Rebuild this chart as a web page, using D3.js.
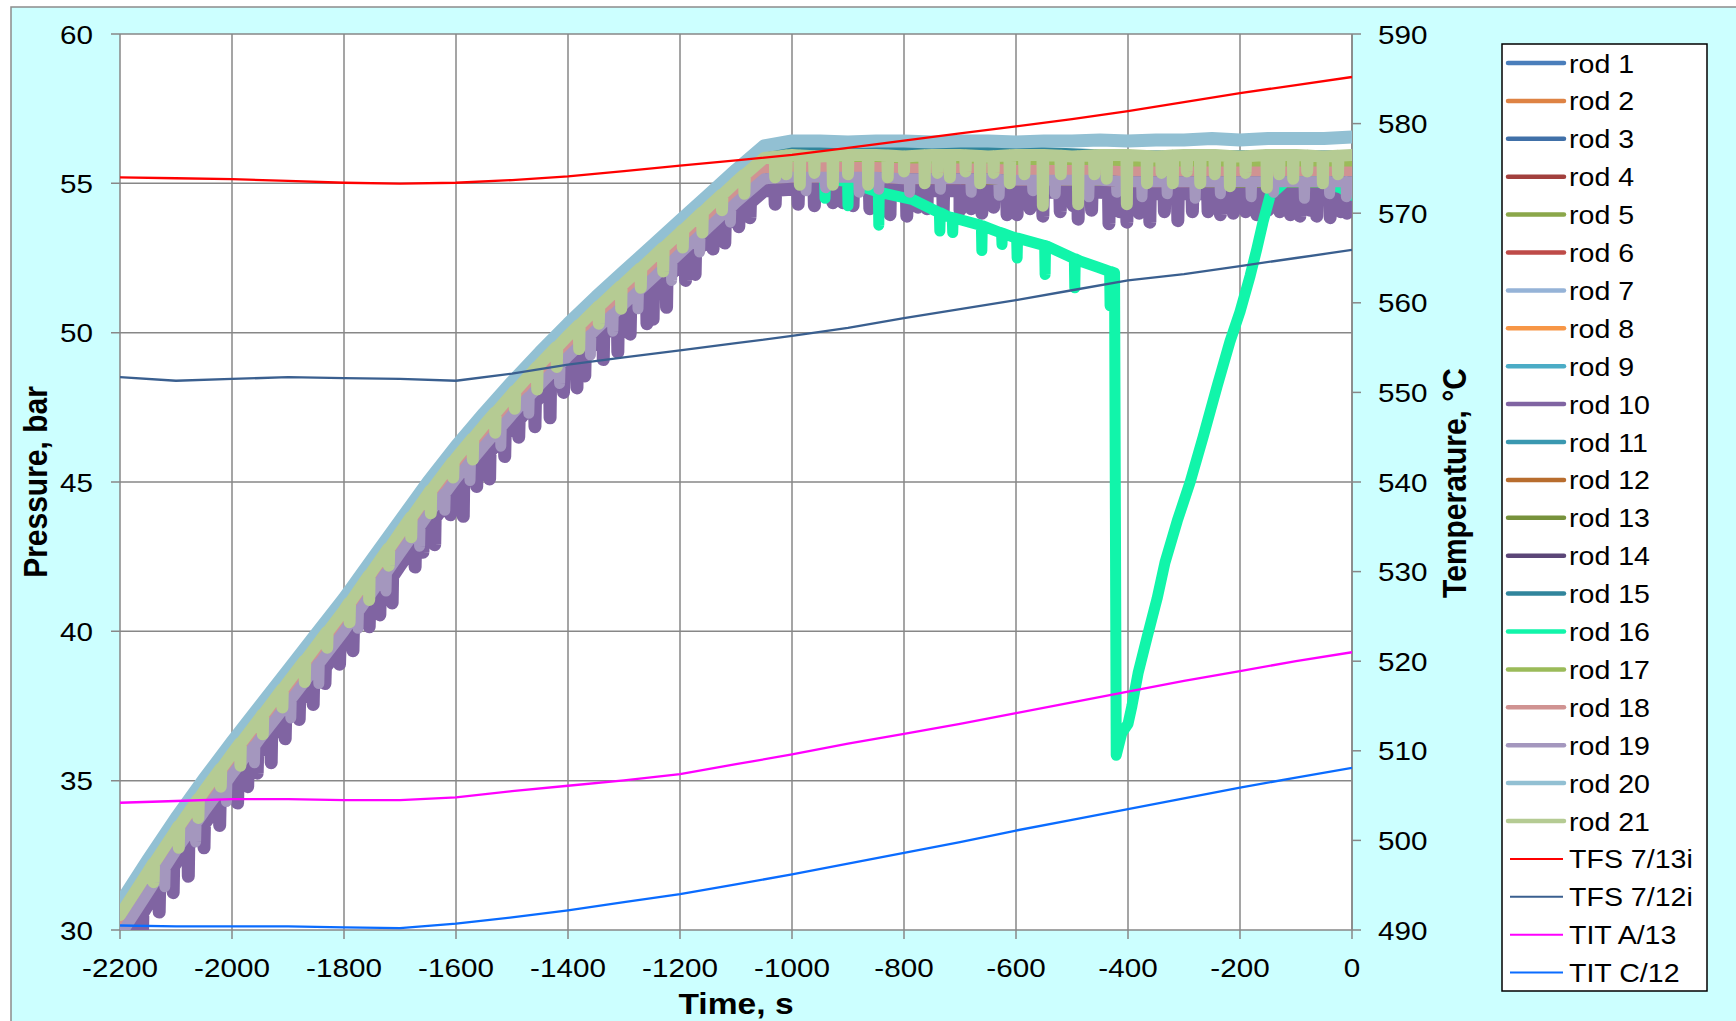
<!DOCTYPE html>
<html>
<head>
<meta charset="utf-8">
<script src="https://cdn.jsdelivr.net/npm/d3@7"></script>
<style>
    body { margin: 0; background: #ffffff; }
    svg text { font-family: "Liberation Sans", Arial, sans-serif; }
</style>
</head>
<body>
<svg id="chart" width="1736" height="1021"></svg>
<script>
'use strict';

// ---- axis ticks ----
var timeTicks = [-2200, -2000, -1800, -1600, -1400, -1200, -1000, -800, -600, -400, -200, 0];
var pressureTicks = [30, 35, 40, 45, 50, 55, 60];
var tempTicks = [490, 500, 510, 520, 530, 540, 550, 560, 570, 580, 590];

// ---- visible rods, 50 s grid ----
var times50 = [-2200, -2150, -2100, -2050, -2000, -1950, -1900, -1850, -1800, -1750, -1700, -1650,
    -1600, -1550, -1500, -1450, -1400, -1350, -1300, -1250, -1200, -1150, -1100, -1050,
    -1000, -950, -900, -850, -800, -750, -700, -650, -600, -550, -500, -450, -400, -350,
    -300, -250, -200, -150, -100, -50, 0];

var rod20 = [30.9, 32.35, 33.75, 35.05, 36.3, 37.5, 38.7, 39.9, 41.1, 42.4, 43.7, 45.0,
    46.2, 47.3, 48.35, 49.35, 50.3, 51.2, 52.05, 52.9, 53.75, 54.6, 55.45, 56.25,
    56.42, 56.42, 56.38, 56.42, 56.42, 56.38, 56.42, 56.42, 56.38, 56.42, 56.42, 56.45, 56.42, 56.45,
    56.45, 56.5, 56.45, 56.5, 56.5, 56.5, 56.55];
var rod21 = [30.5, 31.95, 33.35, 34.65, 35.9, 37.1, 38.3, 39.5, 40.7, 42.0, 43.3, 44.6,
    45.8, 46.9, 47.95, 48.95, 49.9, 50.8, 51.65, 52.5, 53.35, 54.2, 55.05, 55.85,
    55.95, 55.9, 55.95, 55.95, 55.9, 55.95, 55.95, 55.9, 55.95, 55.95, 55.9, 55.95, 55.95, 55.9,
    55.95, 55.95, 55.9, 55.95, 55.95, 55.9, 55.95];
var rod18 = [30.15, 31.6, 33.0, 34.3, 35.55, 36.75, 37.95, 39.15, 40.35, 41.65, 42.95, 44.25,
    45.45, 46.55, 47.6, 48.6, 49.55, 50.45, 51.3, 52.15, 53.0, 53.85, 54.7, 55.5,
    55.55, 55.55, 55.55, 55.55, 55.5, 55.5, 55.5, 55.5, 55.45, 55.45, 55.45, 55.45, 55.4, 55.4,
    55.4, 55.4, 55.4, 55.4, 55.4, 55.4, 55.4];
var rod19 = [29.8, 31.25, 32.65, 33.95, 35.2, 36.4, 37.6, 38.8, 40.0, 41.3, 42.6, 43.9,
    45.1, 46.2, 47.25, 48.25, 49.2, 50.1, 50.95, 51.8, 52.65, 53.5, 54.35, 55.15,
    55.2, 55.2, 55.2, 55.2, 55.15, 55.15, 55.15, 55.15, 55.1, 55.1, 55.1, 55.1, 55.05, 55.05,
    55.05, 55.05, 55.05, 55.05, 55.05, 55.05, 55.05];
var rod10 = [29.4, 30.85, 32.25, 33.55, 34.8, 36.0, 37.2, 38.4, 39.6, 40.9, 42.2, 43.5,
    44.7, 45.8, 46.85, 47.85, 48.8, 49.7, 50.55, 51.4, 52.25, 53.1, 53.95, 54.75,
    54.8, 54.8, 54.8, 54.8, 54.75, 54.75, 54.75, 54.75, 54.7, 54.7, 54.7, 54.7, 54.65, 54.65,
    54.65, 54.65, 54.65, 54.65, 54.65, 54.65, 54.65];

// ---- rods mostly hidden inside the bundle, key times ----
var keyTimes = [-2200, -2100, -2000, -1900, -1800, -1700, -1600, -1500, -1400, -1300, -1200,
    -1100, -1050, -1000, -800, -600, -400, -200, 0];

var rod1 = [30.3, 33.15, 35.7, 38.1, 40.5, 43.1, 45.6, 47.75, 49.7, 51.45, 53.15, 54.85, 55.65, 55.6, 55.55, 55.5, 55.45, 55.4, 55.4];
var rod2 = [29.4, 32.25, 34.8, 37.2, 39.6, 42.2, 44.7, 46.85, 48.8, 50.55, 52.25, 53.95, 54.75, 54.8, 54.75, 54.7, 54.65, 54.65, 54.65];
var rod3 = [30.0, 32.85, 35.4, 37.8, 40.2, 42.8, 45.3, 47.45, 49.4, 51.15, 52.85, 54.55, 55.35, 55.3, 55.3, 55.25, 55.2, 55.15, 55.15];
var rod4 = [29.8, 32.65, 35.2, 37.6, 40.0, 42.6, 45.1, 47.25, 49.2, 50.95, 52.65, 54.35, 55.15, 55.15, 55.1, 55.05, 55.0, 55.0, 55.0];
var rod5 = [30.2, 33.05, 35.6, 38.0, 40.4, 43.0, 45.5, 47.65, 49.6, 51.35, 53.05, 54.75, 55.55, 55.5, 55.45, 55.4, 55.35, 55.35, 55.3];
var rod6 = [29.9, 32.75, 35.3, 37.7, 40.1, 42.7, 45.2, 47.35, 49.3, 51.05, 52.75, 54.45, 55.25, 55.2, 55.2, 55.15, 55.1, 55.05, 55.05];
var rod7 = [30.7, 33.55, 36.1, 38.5, 40.9, 43.5, 46.0, 48.15, 50.1, 51.85, 53.55, 55.25, 56.05, 55.95, 55.95, 55.9, 55.95, 55.95, 55.95];
var rod8 = [29.45, 32.3, 34.85, 37.25, 39.65, 42.25, 44.75, 46.9, 48.85, 50.6, 52.3, 54.0, 54.8, 54.8, 54.75, 54.7, 54.65, 54.65, 54.65];
var rod9 = [30.55, 33.4, 35.95, 38.35, 40.75, 43.35, 45.85, 48.0, 49.95, 51.7, 53.4, 55.1, 55.9, 55.9, 55.9, 55.9, 55.9, 55.9, 55.9];
var rod11 = [30.5, 33.35, 35.9, 38.3, 40.7, 43.3, 45.8, 47.95, 49.9, 51.65, 53.35, 55.05, 55.85, 55.95, 55.9, 55.95, 55.9, 55.95, 55.9];
var rod12 = [29.85, 32.7, 35.25, 37.65, 40.05, 42.65, 45.15, 47.3, 49.25, 51.0, 52.7, 54.4, 55.2, 55.2, 55.15, 55.1, 55.05, 55.05, 55.05];
var rod13 = [29.8, 32.65, 35.2, 37.6, 40.0, 42.6, 45.1, 47.25, 49.2, 50.95, 52.65, 54.35, 55.15, 55.2, 55.15, 55.1, 55.05, 55.0, 55.0];
var rod14 = [30.1, 32.95, 35.5, 37.9, 40.3, 42.9, 45.4, 47.55, 49.5, 51.25, 52.95, 54.65, 55.45, 55.45, 55.4, 55.4, 55.35, 55.3, 55.3];
var rod15 = [30.75, 33.6, 36.15, 38.55, 40.95, 43.55, 46.05, 48.2, 50.15, 51.9, 53.6, 55.3, 56.1, 56.15, 56.15, 56.1, 55.95, 55.95, 55.95];
var rod17 = [30.35, 33.2, 35.75, 38.15, 40.55, 43.15, 45.65, 47.8, 49.75, 51.5, 53.2, 54.9, 55.7, 55.6, 55.6, 55.6, 55.6, 55.6, 55.6];

// ---- rod 16: leaves the bundle, collapses near -420 s and recovers ----
var rod16 = [[-2200, 30.45], [-2100, 33.3], [-2000, 35.85], [-1900, 38.25], [-1800, 40.65], [-1700, 43.25],
    [-1600, 45.75], [-1500, 47.9], [-1400, 49.85], [-1300, 51.6], [-1200, 53.3], [-1100, 55.0],
    [-1050, 55.7], [-1010, 55.5], [-980, 55.3], [-944, 55.2], [-902, 55.05], [-843, 54.7], [-784, 54.45],
    [-723, 53.9], [-664, 53.6], [-605, 53.2], [-545, 52.9], [-486, 52.4], [-455, 52.2], [-440, 52.1],
    [-424, 52.0], [-421, 35.85], [-411, 36.6], [-400, 36.9], [-393, 37.5], [-382, 38.6], [-366, 39.8],
    [-348, 41.1], [-334, 42.3], [-312, 43.7], [-289, 45.0], [-266, 46.5], [-241, 48.2], [-218, 49.7],
    [-200, 50.7], [-182, 51.9], [-170, 52.8], [-159, 53.7], [-146, 54.6], [-120, 55.05], [-60, 55.05],
    [-20, 54.85], [0, 54.6]];

// ---- downward spikes [time, lowest value] ----
var rod10Dips = [[-2160, 29.65], [-2130, 30.6], [-2105, 31.25], [-2078, 31.8], [-2050, 32.75], [-2022, 33.5],
    [-1990, 34.25], [-1972, 34.8], [-1955, 35.25], [-1930, 35.6], [-1905, 36.4], [-1880, 37.05], [-1855, 37.55],
    [-1834, 38.25], [-1808, 38.9], [-1784, 39.35], [-1755, 40.15], [-1736, 40.55], [-1714, 40.95], [-1673, 42.15],
    [-1659, 42.65], [-1638, 42.9], [-1610, 43.9], [-1587, 43.85], [-1563, 44.85], [-1540, 45.1], [-1513, 45.85],
    [-1488, 46.5], [-1459, 46.85], [-1432, 47.15], [-1408, 48.0], [-1384, 48.15], [-1370, 48.55], [-1337, 49.1],
    [-1311, 49.35], [-1289, 49.95], [-1259, 50.3], [-1248, 50.45], [-1224, 50.85], [-1190, 51.75], [-1173, 51.95],
    [-1141, 52.8], [-1120, 53.0], [-1095, 53.55], [-1075, 53.85],
    [-1030, 54.3], [-989, 54.3], [-960, 54.25], [-927, 54.35], [-909, 54.35], [-891, 54.25], [-861, 54.15],
    [-840, 54.2], [-825, 53.95], [-795, 53.9], [-775, 54.2], [-759, 54.15], [-730, 54.05], [-700, 54.1],
    [-680, 54.15], [-661, 54.0], [-640, 54.2], [-616, 53.95], [-598, 53.95], [-575, 54.15], [-552, 53.9],
    [-521, 54.05], [-498, 54.25], [-489, 53.8], [-465, 54.1], [-434, 53.65], [-415, 54.05], [-402, 53.7],
    [-380, 54.0], [-361, 53.7], [-335, 54.05], [-311, 53.75], [-285, 54.05], [-257, 54.05], [-235, 53.95],
    [-212, 54.0], [-190, 54.05], [-170, 53.95], [-150, 54.1], [-129, 54.05], [-110, 53.95], [-93, 53.9],
    [-75, 54.1], [-63, 53.9], [-39, 53.85], [-20, 54.05], [-9, 54.0]];

var rod21Dips = [[-2140, 31.6], [-2095, 32.75], [-2060, 33.75], [-2020, 34.8], [-1985, 35.5], [-1945, 36.55],
    [-1910, 37.45], [-1870, 38.3], [-1830, 39.45], [-1790, 40.3], [-1755, 41.05], [-1720, 42.2], [-1680, 43.15],
    [-1645, 43.95], [-1605, 45.15], [-1570, 45.75], [-1530, 46.65], [-1495, 47.45], [-1455, 48.1], [-1420, 48.85],
    [-1380, 49.45], [-1345, 50.3], [-1305, 50.8], [-1270, 51.5], [-1230, 52.05], [-1195, 52.85], [-1160, 53.35],
    [-1125, 54.1], [-1085, 54.65],
    [-1030, 55.2], [-1010, 55.3], [-986, 54.95], [-960, 55.35], [-927, 54.95], [-900, 55.3], [-864, 54.95],
    [-829, 55.2], [-800, 55.4], [-763, 55.0], [-740, 55.35], [-718, 55.2], [-690, 55.4], [-664, 55.0],
    [-640, 55.35], [-611, 55.0], [-585, 55.3], [-552, 54.25], [-520, 55.3], [-489, 54.3], [-460, 55.3],
    [-438, 55.15], [-402, 54.3], [-366, 55.0], [-340, 55.35], [-320, 55.0], [-295, 55.4], [-271, 55.0],
    [-245, 55.3], [-218, 54.9], [-190, 55.35], [-152, 54.85], [-130, 55.3], [-105, 55.15], [-80, 55.4],
    [-52, 55.0], [-25, 55.3]];

var rod19Dips = [[-2120, 31.45], [-2065, 32.95], [-2010, 34.3], [-1960, 35.6], [-1895, 37.1], [-1845, 38.25],
    [-1775, 40.1], [-1725, 41.35], [-1665, 42.85], [-1620, 44.05], [-1575, 45.05], [-1520, 46.2], [-1470, 47.3],
    [-1415, 48.3], [-1360, 49.25], [-1320, 50.05], [-1275, 50.8], [-1215, 51.75], [-1165, 52.7], [-1110, 53.7],
    [-975, 54.75], [-940, 54.85], [-880, 54.7], [-845, 54.8], [-790, 54.7], [-735, 54.8], [-680, 54.7],
    [-630, 54.6], [-570, 54.75], [-530, 54.65], [-470, 54.55], [-420, 54.7], [-375, 54.55], [-330, 54.65],
    [-280, 54.5], [-235, 54.65], [-180, 54.55], [-140, 54.7], [-85, 54.5], [-40, 54.65], [-10, 54.55]];

var rod16Dips = [[-941, 54.5], [-900, 54.25], [-845, 53.6], [-736, 53.4], [-713, 53.35], [-661, 52.75],
    [-625, 52.95], [-598, 52.5], [-548, 51.95], [-495, 51.5], [-432, 50.9]];

// ---- thermocouples (right axis), 100 s grid ----
var thermoTimes = [-2200, -2100, -2000, -1900, -1800, -1700, -1600, -1500, -1400, -1300, -1200, -1100,
    -1000, -900, -800, -700, -600, -500, -400, -300, -200, -100, 0];
var tfs713 = [574.0, 573.9, 573.8, 573.6, 573.4, 573.3, 573.4, 573.7, 574.1, 574.7, 575.3, 575.9,
    576.5, 577.3, 578.1, 578.9, 579.7, 580.5, 581.4, 582.4, 583.4, 584.3, 585.2];
var tfs712 = [551.7, 551.3, 551.5, 551.7, 551.6, 551.5, 551.3, 552.1, 553.1, 553.9, 554.7, 555.5,
    556.3, 557.2, 558.3, 559.3, 560.3, 561.4, 562.5, 563.2, 564.1, 565.0, 565.9];
var titA13 = [504.2, 504.4, 504.6, 504.6, 504.5, 504.5, 504.8, 505.5, 506.1, 506.7, 507.4, 508.5,
    509.6, 510.8, 511.9, 513.0, 514.2, 515.4, 516.6, 517.8, 518.9, 520.0, 521.0];
var titC12 = [490.5, 490.4, 490.4, 490.4, 490.3, 490.2, 490.7, 491.4, 492.2, 493.1, 494.0, 495.1,
    496.2, 497.4, 498.6, 499.8, 501.1, 502.3, 503.5, 504.7, 505.9, 507.0, 508.1];

var rodColors = ['#4A7EBB', '#DE8344', '#4070A8', '#A2403D', '#8BA74A', '#BE4B48', '#95B3D7',
    '#F79646', '#4BACC6', '#8064A2', '#3A98B0', '#B86D2E', '#77923C', '#5B4677', '#31859C',
    '#11F5AA', '#9BBB59', '#D09392', '#A497BE', '#92C0D3', '#B5CB93'];
// rods that carry the visible noise are drawn a little wider
var rodWidths = [9, 9, 9, 9, 9, 9, 9, 9, 9, 13, 9, 9, 9, 9, 9, 11, 9, 10, 11, 13, 12];

var STRETCH = 1.12;
var plot = { left: 120, top: 34, right: 1352, bottom: 930 };

var x = d3.scaleLinear().domain([-2200, 0]).range([plot.left, plot.right]);
var yP = d3.scaleLinear().domain([30, 60]).range([plot.bottom, plot.top]);
var yT = d3.scaleLinear().domain([490, 590]).range([plot.bottom, plot.top]);

function pairs(times, values) {
    return times.map(function(t, i) { return [t, values[i]]; });
}

// spikes are drawn straight down from the line and back
function withDips(points, dips) {
    if (!dips) return points;
    var base = d3.scaleLinear()
        .domain(points.map(function(p) { return p[0]; }))
        .range(points.map(function(p) { return p[1]; }));
    var out = points.slice();
    dips.forEach(function(d) {
        var top = base(d[0]);
        out.push([d[0] - 0.8, top], [d[0], d[1]], [d[0] + 0.8, top]);
    });
    out.sort(function(a, b) { return a[0] - b[0]; });
    return out;
}

function label(parent, str, tx, ty, anchor, size, weight, rotate) {
    var tr = 'translate(' + tx + ',' + ty + ') scale(' + STRETCH + ',1)' + (rotate ? ' rotate(' + rotate + ')' : '');
    return parent.append('text')
        .attr('transform', tr)
        .attr('text-anchor', anchor)
        .attr('font-size', size + 'px')
        .attr('font-weight', weight || 'normal')
        .attr('fill', '#000000')
        .text(str);
}

var rods = [
    { name: 'rod 1', pts: pairs(keyTimes, rod1) },
    { name: 'rod 2', pts: pairs(keyTimes, rod2) },
    { name: 'rod 3', pts: pairs(keyTimes, rod3) },
    { name: 'rod 4', pts: pairs(keyTimes, rod4) },
    { name: 'rod 5', pts: pairs(keyTimes, rod5) },
    { name: 'rod 6', pts: pairs(keyTimes, rod6) },
    { name: 'rod 7', pts: pairs(keyTimes, rod7) },
    { name: 'rod 8', pts: pairs(keyTimes, rod8) },
    { name: 'rod 9', pts: pairs(keyTimes, rod9) },
    { name: 'rod 10', pts: withDips(pairs(times50, rod10), rod10Dips) },
    { name: 'rod 11', pts: pairs(keyTimes, rod11) },
    { name: 'rod 12', pts: pairs(keyTimes, rod12) },
    { name: 'rod 13', pts: pairs(keyTimes, rod13) },
    { name: 'rod 14', pts: pairs(keyTimes, rod14) },
    { name: 'rod 15', pts: pairs(keyTimes, rod15) },
    { name: 'rod 16', pts: withDips(rod16, rod16Dips) },
    { name: 'rod 17', pts: pairs(keyTimes, rod17) },
    { name: 'rod 18', pts: pairs(times50, rod18) },
    { name: 'rod 19', pts: withDips(pairs(times50, rod19), rod19Dips) },
    { name: 'rod 20', pts: pairs(times50, rod20) },
    { name: 'rod 21', pts: withDips(pairs(times50, rod21), rod21Dips) }
];
rods.forEach(function(r, i) {
    r.color = rodColors[i];
    r.width = rodWidths[i];
});

var thermos = [
    { name: 'TFS 7/13i', color: '#FF0000', pts: pairs(thermoTimes, tfs713) },
    { name: 'TFS 7/12i', color: '#3A5F8F', pts: pairs(thermoTimes, tfs712) },
    { name: 'TIT A/13', color: '#FF00FF', pts: pairs(thermoTimes, titA13) },
    { name: 'TIT C/12', color: '#0A6CFF', pts: pairs(thermoTimes, titC12) }
];

var svg = d3.select('#chart');

// chart area
svg.append('rect')
    .attr('x', 11).attr('y', 7)
    .attr('width', 1800).attr('height', 1100)
    .attr('fill', '#CCFFFF')
    .attr('stroke', '#8C8C8C')
    .attr('stroke-width', 1.5);

svg.append('rect')
    .attr('x', plot.left).attr('y', plot.top)
    .attr('width', plot.right - plot.left).attr('height', plot.bottom - plot.top)
    .attr('fill', '#FFFFFF');

svg.append('clipPath').attr('id', 'plotClip')
    .append('rect')
    .attr('x', plot.left).attr('y', plot.top)
    .attr('width', plot.right - plot.left).attr('height', plot.bottom - plot.top);

// grid and ticks
var grid = svg.append('g').attr('stroke', '#878787').attr('stroke-width', 1.5);
timeTicks.forEach(function(t) {
    grid.append('line').attr('x1', x(t)).attr('x2', x(t)).attr('y1', plot.top).attr('y2', plot.bottom + 9);
});
pressureTicks.forEach(function(p) {
    grid.append('line').attr('x1', plot.left - 9).attr('x2', plot.right).attr('y1', yP(p)).attr('y2', yP(p));
});
tempTicks.forEach(function(t) {
    grid.append('line').attr('x1', plot.right).attr('x2', plot.right + 9).attr('y1', yT(t)).attr('y2', yT(t));
});
grid.append('line').attr('x1', plot.right).attr('x2', plot.right).attr('y1', plot.top).attr('y2', plot.bottom);

// series
var lineP = d3.line().x(function(d) { return x(d[0]); }).y(function(d) { return yP(d[1]); });
var lineT = d3.line().x(function(d) { return x(d[0]); }).y(function(d) { return yT(d[1]); });

var series = svg.append('g').attr('clip-path', 'url(#plotClip)');
rods.forEach(function(r) {
    series.append('path')
        .attr('d', lineP(r.pts))
        .attr('fill', 'none')
        .attr('stroke', r.color)
        .attr('stroke-width', r.width)
        .attr('stroke-linejoin', 'round')
        .attr('stroke-linecap', 'round');
});
thermos.forEach(function(s) {
    series.append('path')
        .attr('d', lineT(s.pts))
        .attr('fill', 'none')
        .attr('stroke', s.color)
        .attr('stroke-width', 2.3)
        .attr('stroke-linejoin', 'round');
});

// tick labels
var labels = svg.append('g');
pressureTicks.forEach(function(p) {
    label(labels, String(p), 93, yP(p) + 9.5, 'end', 26.5);
});
timeTicks.forEach(function(t) {
    label(labels, String(t), x(t), 977, 'middle', 26.5);
});
tempTicks.forEach(function(t) {
    label(labels, String(t), 1378, yT(t) + 9.5, 'start', 26.5);
});

// axis titles
label(labels, 'Pressure, bar', 47, 482, 'middle', 30, 'bold', -90);
label(labels, 'Temperature, \u00B0C', 1466, 483, 'middle', 30, 'bold', -90);
label(labels, 'Time, s', 736, 1014, 'middle', 30, 'bold');

// legend
var legend = svg.append('g').attr('id', 'legend');
legend.append('rect')
    .attr('x', 1502).attr('y', 44)
    .attr('width', 205).attr('height', 947)
    .attr('fill', '#FFFFFF')
    .attr('stroke', '#000000')
    .attr('stroke-width', 1.5);

var entries = rods.map(function(r) { return { name: r.name, color: r.color, thick: true }; })
    .concat(thermos.map(function(s) { return { name: s.name, color: s.color, thick: false }; }));

entries.forEach(function(e, i) {
    var ly = 63 + i * 37.9;
    legend.append('line')
        .attr('x1', e.thick ? 1508 : 1510).attr('x2', e.thick ? 1564 : 1563)
        .attr('y1', ly).attr('y2', ly)
        .attr('stroke', e.color)
        .attr('stroke-width', e.thick ? 4.5 : 2)
        .attr('stroke-linecap', e.thick ? 'round' : 'butt');
    label(legend, e.name, 1569, ly + 9.5, 'start', 25.5);
});
</script>
</body>
</html>
